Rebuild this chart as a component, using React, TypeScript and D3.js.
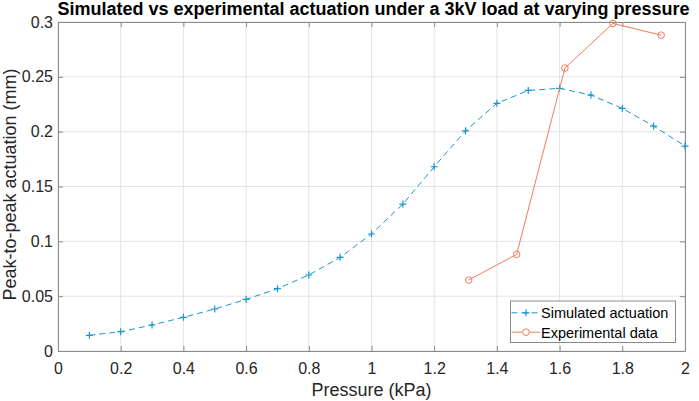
import { useEffect, useRef } from 'react';
import * as d3 from 'd3';

const simPressure = [0.1, 0.2, 0.3, 0.4, 0.5, 0.6, 0.7, 0.8, 0.9, 1.0, 1.1, 1.2, 1.3, 1.4, 1.5, 1.6, 1.7, 1.8, 1.9, 2.0];
const simActuation = [0.0143, 0.0176, 0.0237, 0.0307, 0.0383, 0.0471, 0.0568, 0.0693, 0.0854, 0.1067, 0.134, 0.168, 0.2008, 0.2258, 0.2376, 0.2395, 0.2334, 0.2212, 0.2051, 0.1869];

const expPressure = [1.31, 1.463, 1.617, 1.77, 1.924];
const expActuation = [0.0647, 0.0881, 0.258, 0.2987, 0.288];

const xTicks = [0, 0.2, 0.4, 0.6, 0.8, 1, 1.2, 1.4, 1.6, 1.8, 2];
const yTicks = [0, 0.05, 0.1, 0.15, 0.2, 0.25, 0.3];

const legendLabels = ['Simulated actuation', 'Experimental data'];

const BLUE = '#1895d3';
const ORANGE = '#f27b5a';
const FONT = '"Liberation Sans", Arial, Helvetica, sans-serif';

function ActuationChart({ width = 699, height = 401 }) {
  const svgRef = useRef<SVGSVGElement>(null);

  useEffect(() => {
    if (!svgRef.current) return;
    const margin = { top: 22, right: 14, bottom: 50, left: 58 };
    const W = width - margin.left - margin.right;
    const H = height - margin.top - margin.bottom;

    const svg = d3.select(svgRef.current);
    svg.selectAll('*').remove();
    svg.attr('width', width).attr('height', height).style('font-family', FONT);

    const g = svg.append('g').attr('transform', `translate(${margin.left},${margin.top})`);
    const x = d3.scaleLinear().domain([0, 2]).range([0, W]);
    const y = d3.scaleLinear().domain([0, 0.3]).range([H, 0]);

    // grid
    g.append('g').selectAll('line').data(xTicks).join('line')
      .attr('x1', d => x(d)).attr('x2', d => x(d)).attr('y1', 0).attr('y2', H)
      .attr('stroke', '#e3e3e3').attr('stroke-width', 1);
    g.append('g').selectAll('line').data(yTicks).join('line')
      .attr('x1', 0).attr('x2', W).attr('y1', d => y(d)).attr('y2', d => y(d))
      .attr('stroke', '#e3e3e3').attr('stroke-width', 1);

    // box + inward ticks on all sides
    const axisColor = '#8a8a8a';
    const tl = 5;
    g.append('g').attr('transform', `translate(0,${H})`)
      .call(d3.axisBottom(x).tickValues(xTicks).tickSizeInner(-tl).tickSizeOuter(0).tickPadding(12).tickFormat(d => String(d)))
      .call(s => s.select('.domain').attr('stroke', axisColor))
      .call(s => s.selectAll('.tick line').attr('stroke', axisColor))
      .call(s => s.selectAll('text').attr('fill', '#262626').attr('font-size', 16).attr('font-family', FONT));
    g.append('g')
      .call(d3.axisTop(x).tickValues(xTicks).tickSizeInner(-tl).tickSizeOuter(0).tickFormat(() => ''))
      .call(s => s.select('.domain').attr('stroke', axisColor))
      .call(s => s.selectAll('.tick line').attr('stroke', axisColor));
    g.append('g')
      .call(d3.axisLeft(y).tickValues(yTicks).tickSizeInner(-tl).tickSizeOuter(0).tickPadding(5).tickFormat(d => String(d)))
      .call(s => s.select('.domain').attr('stroke', axisColor))
      .call(s => s.selectAll('.tick line').attr('stroke', axisColor))
      .call(s => s.selectAll('text').attr('fill', '#262626').attr('font-size', 16).attr('font-family', FONT));
    g.append('g').attr('transform', `translate(${W},0)`)
      .call(d3.axisRight(y).tickValues(yTicks).tickSizeInner(-tl).tickSizeOuter(0).tickFormat(() => ''))
      .call(s => s.select('.domain').attr('stroke', axisColor))
      .call(s => s.selectAll('.tick line').attr('stroke', axisColor));

    // labels
    svg.append('text').attr('x', margin.left + W / 2 + 2).attr('y', 14.5)
      .attr('text-anchor', 'middle').attr('font-weight', 'bold').attr('font-size', 18).attr('fill', '#000')
      .text('Simulated vs experimental actuation under a 3kV load at varying pressure');
    svg.append('text').attr('x', margin.left + W / 2).attr('y', 396)
      .attr('text-anchor', 'middle').attr('font-size', 18).attr('fill', '#262626').text('Pressure (kPa)');
    svg.append('text').attr('transform', `translate(15.5,${margin.top + H / 2 - 2}) rotate(-90)`)
      .attr('text-anchor', 'middle').attr('font-size', 18).attr('fill', '#262626').text('Peak-to-peak actuation (mm)');

    const simData = simPressure.map((p, i) => [p, simActuation[i]] as [number, number]);
    const expData = expPressure.map((p, i) => [p, expActuation[i]] as [number, number]);
    const line = d3.line<[number, number]>().x(d => x(d[0])).y(d => y(d[1]));

    // simulated
    g.append('path').datum(simData).attr('fill', 'none').attr('stroke', BLUE)
      .attr('stroke-width', 1).attr('stroke-dasharray', '6,4').attr('d', line);
    const plus = (sel: d3.Selection<SVGGElement, unknown, null, undefined>, cx: number, cy: number) => {
      sel.append('path').attr('d', `M${cx - 3.5},${cy}H${cx + 3.5}M${cx},${cy - 3.5}V${cy + 3.5}`)
        .attr('stroke', BLUE).attr('stroke-width', 1.2).attr('fill', 'none');
    };
    const simMarks = g.append('g');
    simData.forEach(d => plus(simMarks, x(d[0]), y(d[1])));

    // experimental
    g.append('path').datum(expData).attr('fill', 'none').attr('stroke', ORANGE)
      .attr('stroke-width', 1).attr('d', line);
    g.append('g').selectAll('circle').data(expData).join('circle')
      .attr('cx', d => x(d[0])).attr('cy', d => y(d[1])).attr('r', 3.3)
      .attr('fill', 'none').attr('stroke', ORANGE).attr('stroke-width', 1);

    // legend
    const lg = svg.append('g').attr('transform', 'translate(510.5,301)');
    lg.append('rect').attr('width', 165).attr('height', 41.5)
      .attr('fill', '#fff').attr('stroke', '#8a8a8a').attr('stroke-width', 1);
    const rows = lg.append('g');
    legendLabels.forEach((label, i) => {
      const cy = 11.8 + i * 19.4;
      if (i === 0) {
        rows.append('line').attr('x1', 1).attr('x2', 29.5).attr('y1', cy).attr('y2', cy)
          .attr('stroke', BLUE).attr('stroke-width', 1).attr('stroke-dasharray', '6,4');
        plus(rows, 15.5, cy);
      } else {
        rows.append('line').attr('x1', 1).attr('x2', 29.5).attr('y1', cy).attr('y2', cy)
          .attr('stroke', ORANGE).attr('stroke-width', 1);
        rows.append('circle').attr('cx', 15.5).attr('cy', cy).attr('r', 3.3)
          .attr('fill', '#fff').attr('stroke', ORANGE).attr('stroke-width', 1);
      }
      rows.append('text').attr('x', 30.5).attr('y', cy + 5.5).attr('font-size', 14.5)
        .attr('fill', '#000').text(label);
    });
  }, [width, height]);

  return <svg ref={svgRef} style={{ position: 'absolute', left: 0, top: 0 }} />;
}

export default function App() {
  return <ActuationChart width={699} height={401} />;
}
